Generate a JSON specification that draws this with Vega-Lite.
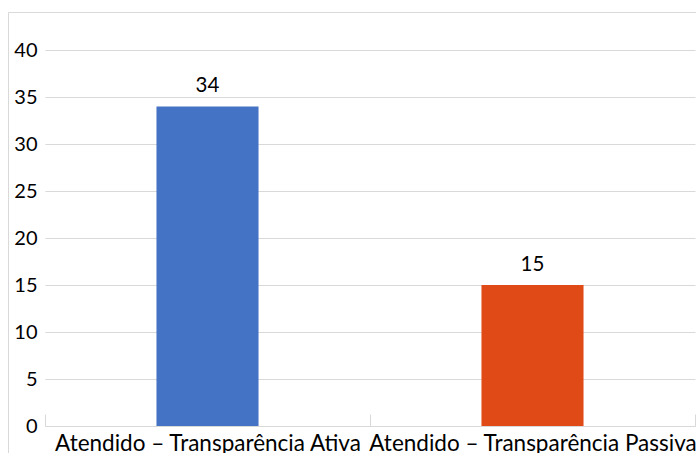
{
  "$schema": "https://vega.github.io/schema/vega-lite/v6.json",
  "width": 700,
  "height": 460,
  "autosize": "none",
  "padding": {"left": 8, "top": 12, "right": 0, "bottom": 0},
  "background": "white",
  "config": {
    "font": "Lato",
    "view": {"stroke": "#d9d9d9", "strokeWidth": 1}
  },
  "data": {
    "values": [
      {"categoria": "Atendido – Transparência Ativa", "total": 34},
      {"categoria": "Atendido – Transparência Passiva", "total": 15}
    ]
  },
  "encoding": {
    "x": {
      "field": "categoria",
      "type": "nominal",
      "sort": null,
      "scale": {"range": [37, 687], "paddingInner": 0, "paddingOuter": 0},
      "axis": {
        "title": null,
        "orient": "bottom",
        "offset": -46,
        "labelAngle": 0,
        "labelFontSize": 22.5,
        "labelColor": "#000000",
        "labelPadding": 18,
        "labelLimit": 0,
        "labelOverlap": false,
        "domainColor": "#d9d9d9",
        "tickColor": "#d9d9d9",
        "tickBand": "extent",
        "tickSize": -12,
        "grid": false
      }
    }
  },
  "layer": [
    {
      "mark": {"type": "bar", "width": {"band": 0.314}},
      "encoding": {
        "y": {
          "field": "total",
          "type": "quantitative",
          "scale": {"domain": [-4.8936, 44.0426], "nice": false, "zero": false},
          "axis": {
            "title": null,
            "offset": -37,
            "values": [0, 5, 10, 15, 20, 25, 30, 35, 40],
            "domain": false,
            "ticks": false,
            "labelPadding": 8,
            "labelFontSize": 20,
            "labelColor": "#000000",
            "grid": true,
            "gridColor": "#d9d9d9",
            "gridWidth": 1
          }
        },
        "y2": {"datum": 0},
        "color": {
          "field": "categoria",
          "type": "nominal",
          "scale": {
            "domain": ["Atendido – Transparência Ativa", "Atendido – Transparência Passiva"],
            "range": ["#4472C4", "#E04A16"]
          },
          "legend": null
        }
      }
    },
    {
      "mark": {"type": "text", "dy": -14, "baseline": "alphabetic", "fontSize": 20.5, "color": "#000000"},
      "encoding": {
        "y": {"field": "total", "type": "quantitative"},
        "text": {"field": "total", "type": "quantitative"}
      }
    }
  ]
}
